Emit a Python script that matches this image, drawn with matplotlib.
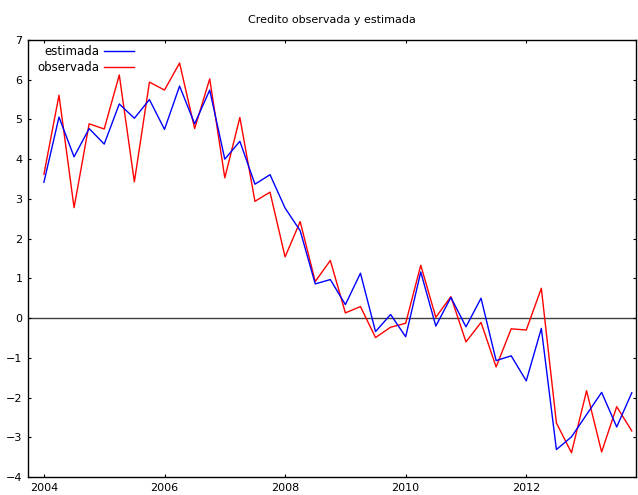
import numpy as np
import pandas as pd
import matplotlib
matplotlib.use("Agg")
import matplotlib.pyplot as plt

# quarterly series 2004Q1 - 2013Q4
quarters = pd.period_range("2004Q1", "2013Q4", freq="Q")
t = quarters.year + (quarters.quarter - 1) / 4.0

estimada = [3.42, 5.06, 4.06, 4.77, 4.38, 5.39, 5.03, 5.50, 4.75, 5.84,
            4.89, 5.74, 4.00, 4.45, 3.37, 3.61, 2.77, 2.20, 0.86, 0.97,
            0.34, 1.13, -0.34, 0.09, -0.47, 1.16, -0.20, 0.52, -0.22, 0.50,
            -1.07, -0.95, -1.58, -0.26, -3.31, -2.99, -2.43, -1.87, -2.74, -1.88]

observada = [3.62, 5.61, 2.78, 4.89, 4.76, 6.12, 3.43, 5.94, 5.74, 6.42,
             4.77, 6.02, 3.53, 5.05, 2.94, 3.17, 1.54, 2.43, 0.92, 1.45,
             0.13, 0.29, -0.49, -0.23, -0.13, 1.33, 0.02, 0.54, -0.60, -0.11,
             -1.23, -0.27, -0.30, 0.75, -2.64, -3.39, -1.83, -3.37, -2.23, -2.84]

year_ticks = [2004, 2006, 2008, 2010, 2012]
y_ticks = list(range(-4, 8))

fig = plt.figure(figsize=(6.38, 4.95), dpi=100)
ax = fig.add_axes([28 / 638, 1 - 477 / 495, 608 / 638, 437 / 495])

ax.axhline(0, color="#404040", lw=1.0, zorder=1)
ax.plot(t, estimada, color="#0000ff", lw=1.0, label="estimada", zorder=3)
ax.plot(t, observada, color="#ff0000", lw=1.0, label="observada", zorder=2)

ax.set_xlim(2003.736, 2013.82)
ax.set_ylim(-4, 7)
ax.set_xticks(year_ticks)
ax.set_yticks(y_ticks)
ax.tick_params(direction="in", top=True, right=True, labelsize=8,
               length=2.5, width=0.8, pad=4)
for s in ax.spines.values():
    s.set_linewidth(1.0)

ax.set_title("Credito observada y estimada", fontsize=8, pad=12)

leg = ax.legend(loc="upper left", bbox_to_anchor=(0.008, 1.0),
                markerfirst=False, frameon=False,
                fontsize=8.5, handlelength=2.6, borderaxespad=0.0,
                handletextpad=0.35, labelspacing=0.3)
for txt in leg.get_texts():
    txt.set_ha("right")
leg._legend_box.align = "right"

fig.savefig("out.png", dpi=100)
